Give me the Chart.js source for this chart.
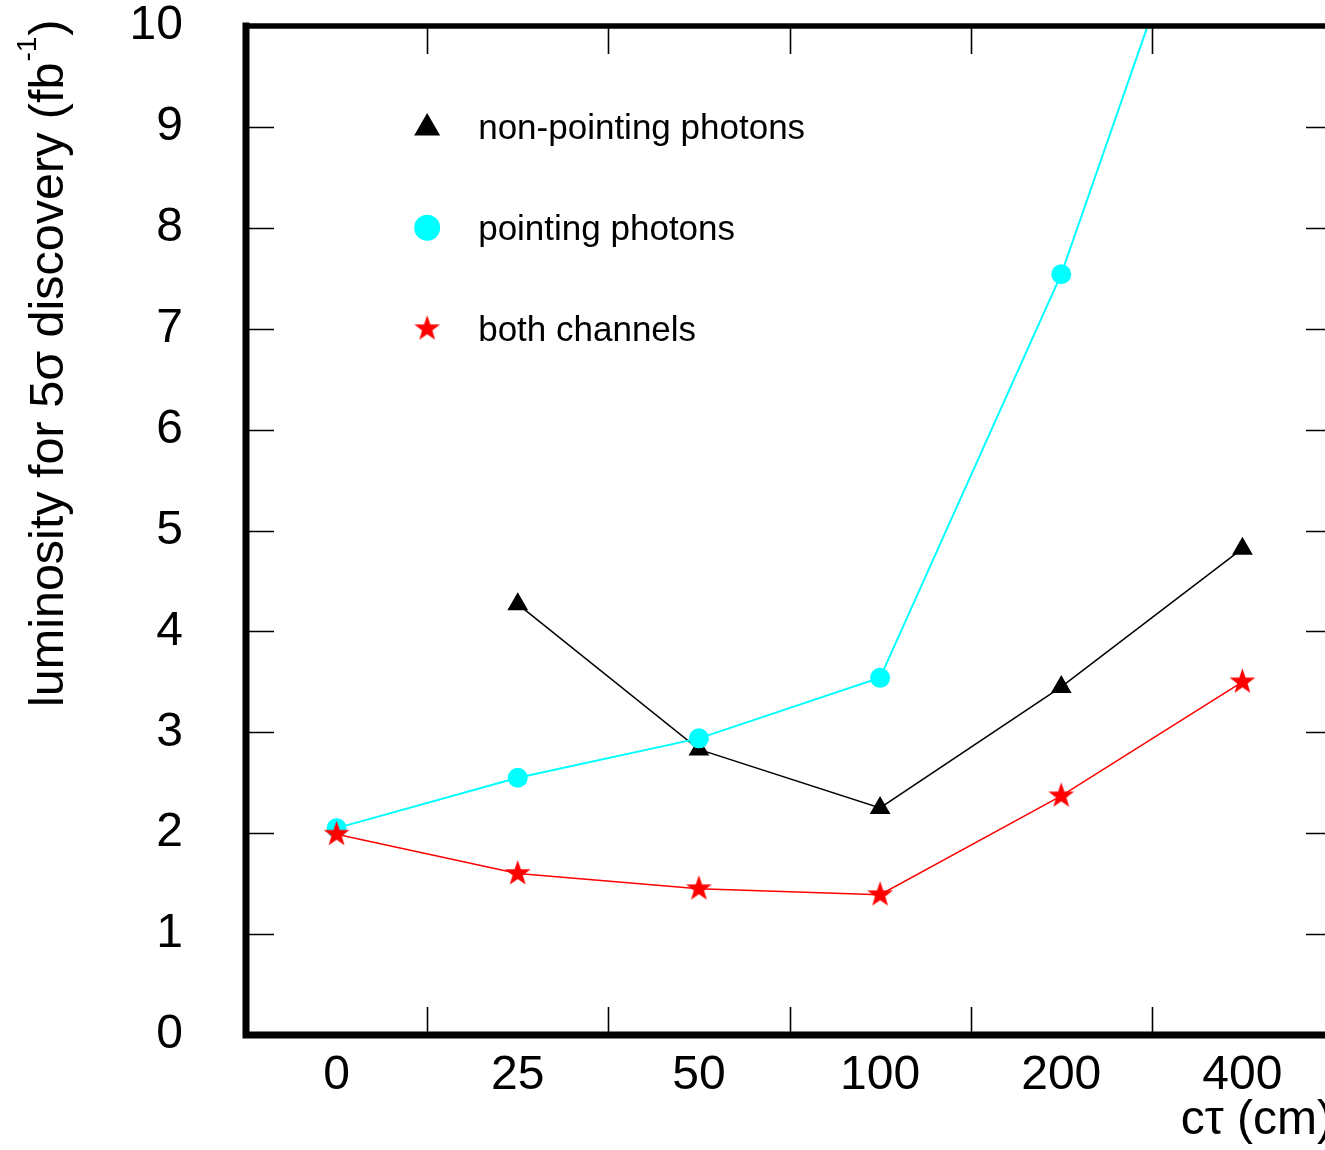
<!DOCTYPE html>
<html lang="en">
<head>
    <meta charset="UTF-8">
    <title>Luminosity for 5 sigma discovery vs c tau</title>
    <script src="https://cdn.jsdelivr.net/npm/chart.js@4.4.0/dist/chart.umd.min.js"></script>
    <style>
        html, body { margin: 0; padding: 0; background: #fff; overflow: hidden; }
        #wrap { width: 1345px; height: 1150px; }
    </style>
</head>
<body>
    <div id="wrap"><canvas id="lumiChart" width="1345" height="1150"></canvas></div>

    <script>
        // c*tau points (cm), drawn at equal spacing
        const ctauLabels = ['0', '25', '50', '100', '200', '400'];
        // luminosity (fb^-1) needed for a 5 sigma discovery
        const nonPointing = [null, 4.27, 2.83, 2.25, 3.45, 4.82];
        const pointing = [2.05, 2.55, 2.94, 3.54, 7.54, 12.7];
        const bothChannels = [1.99, 1.60, 1.45, 1.39, 2.37, 3.50];
        const yTicks = [0, 1, 2, 3, 4, 5, 6, 7, 8, 9, 10];
        const legendNames = ['non-pointing photons', 'pointing photons', 'both channels'];

        const FONT = '"Liberation Sans", Arial, Helvetica, sans-serif';

        function toPoints(values) {
            return values
                .map((v, i) => (v === null ? null : { x: i, y: v }))
                .filter(p => p !== null);
        }

        // five-pointed star, Chart.js only has the cross-style 'star'
        function makeStar(outer, color) {
            const c = document.createElement('canvas');
            const size = Math.ceil(outer * 2 + 2);
            c.width = size;
            c.height = size;
            const g = c.getContext('2d');
            const cx = size / 2, cy = size / 2;
            const inner = outer * 0.4;
            g.beginPath();
            for (let k = 0; k < 10; k++) {
                const r = k % 2 === 0 ? outer : inner;
                const a = -Math.PI / 2 + k * Math.PI / 5;
                const px = cx + r * Math.cos(a), py = cy + r * Math.sin(a);
                if (k === 0) g.moveTo(px, py); else g.lineTo(px, py);
            }
            g.closePath();
            g.fillStyle = color;
            g.fill();
            return c;
        }

        const starImg = makeStar(13.5, '#ff0000');

        function drawTriangle(ctx, x, y, r, color) {
            ctx.beginPath();
            for (let k = 0; k < 3; k++) {
                const a = -Math.PI / 2 + k * 2 * Math.PI / 3;
                const px = x + r * Math.cos(a), py = y + r * Math.sin(a);
                if (k === 0) ctx.moveTo(px, py); else ctx.lineTo(px, py);
            }
            ctx.closePath();
            ctx.fillStyle = color;
            ctx.fill();
        }

        function drawDot(ctx, x, y, r, color) {
            ctx.beginPath();
            ctx.arc(x, y, r, 0, Math.PI * 2);
            ctx.fillStyle = color;
            ctx.fill();
        }

        // frame, inward ticks, legend and rotated y title
        const framePlugin = {
            id: 'frame',
            afterDraw(chart) {
                const ctx = chart.ctx;
                const a = chart.chartArea;
                const xs = chart.scales.x, ys = chart.scales.y;
                const tick = 25;
                ctx.save();
                ctx.strokeStyle = '#000';

                // inward tick marks
                ctx.lineWidth = 1.6;
                ctx.beginPath();
                yTicks.slice(1, -1).forEach(v => {
                    const py = Math.round(ys.getPixelForValue(v)) + 0.5;
                    ctx.moveTo(a.left, py); ctx.lineTo(a.left + 3 + tick, py);
                    ctx.moveTo(a.right, py); ctx.lineTo(a.right - 2 - tick, py);
                });
                for (let i = 0; i < ctauLabels.length - 1; i++) {
                    const px = Math.round(xs.getPixelForValue(i + 0.5)) + 0.5;
                    ctx.moveTo(px, a.bottom); ctx.lineTo(px, a.bottom - 3 - tick);
                    ctx.moveTo(px, a.top); ctx.lineTo(px, a.top + 3 + tick);
                }
                ctx.stroke();

                // frame
                ctx.lineCap = 'square';
                ctx.lineWidth = 7;
                ctx.beginPath();
                ctx.moveTo(a.left, a.top); ctx.lineTo(a.left, a.bottom); ctx.lineTo(a.right, a.bottom);
                ctx.stroke();
                ctx.lineWidth = 5.5;
                ctx.beginPath();
                ctx.moveTo(a.left, a.top); ctx.lineTo(a.right, a.top); ctx.lineTo(a.right, a.bottom);
                ctx.stroke();

                // legend inside the plot
                const lx = xs.getPixelForValue(0.5);
                const rows = [9, 8, 7].map(v => ys.getPixelForValue(v));
                drawTriangle(ctx, lx, rows[0] + 1, 15, '#000');
                drawDot(ctx, lx, rows[1], 13, '#00ffff');
                ctx.drawImage(starImg, lx - starImg.width / 2, rows[2] - starImg.height / 2);
                ctx.fillStyle = '#000';
                ctx.font = '35px ' + FONT;
                ctx.textAlign = 'left';
                ctx.textBaseline = 'alphabetic';
                legendNames.forEach((name, k) => ctx.fillText(name, lx + 51, rows[k] + 12));

                // y axis title with superscript
                ctx.translate(63, 707);
                ctx.rotate(-Math.PI / 2);
                ctx.font = '48.5px ' + FONT;
                const main = 'luminosity for 5\u03c3 discovery (fb';
                ctx.fillText(main, 0, 0);
                let w = ctx.measureText(main).width;
                ctx.font = '28px ' + FONT;
                ctx.fillText('-1', w + 1, -27);
                w += ctx.measureText('-1').width + 2;
                ctx.font = '48.5px ' + FONT;
                ctx.fillText(')', w, 0);
                ctx.restore();
            }
        };

        const ctx = document.getElementById('lumiChart').getContext('2d');
        new Chart(ctx, {
            type: 'line',
            data: {
                datasets: [
                    {
                        label: legendNames[0],
                        data: toPoints(nonPointing),
                        borderColor: '#000000',
                        backgroundColor: '#000000',
                        borderWidth: 1.5,
                        pointStyle: 'triangle',
                        pointRadius: 12,
                        pointBorderWidth: 0,
                        order: 2
                    },
                    {
                        label: legendNames[1],
                        data: toPoints(pointing),
                        borderColor: '#00ffff',
                        backgroundColor: '#00ffff',
                        borderWidth: 2,
                        pointStyle: 'circle',
                        pointRadius: 10,
                        pointBorderWidth: 0,
                        order: 1
                    },
                    {
                        label: legendNames[2],
                        data: toPoints(bothChannels),
                        borderColor: '#ff0000',
                        backgroundColor: '#ff0000',
                        borderWidth: 1.5,
                        pointStyle: starImg,
                        order: 0
                    }
                ]
            },
            options: {
                responsive: false,
                animation: false,
                events: [],
                layout: { padding: { left: 0, top: 26, right: 8, bottom: 0 } },
                plugins: {
                    legend: { display: false },
                    tooltip: { enabled: false }
                },
                scales: {
                    x: {
                        type: 'linear',
                        min: -0.5,
                        max: 5.5,
                        afterBuildTicks: s => { s.ticks = ctauLabels.map((_, i) => ({ value: i })); },
                        afterFit: s => { s.height = 115; s.paddingLeft = 0; s.paddingRight = 0; },
                        grid: { display: false, drawTicks: false },
                        border: { display: false },
                        ticks: {
                            color: '#000',
                            font: { family: FONT, size: 48 },
                            padding: 12,
                            maxRotation: 0,
                            autoSkip: false,
                            callback: v => ctauLabels[v]
                        },
                        title: {
                            display: true,
                            text: 'c\u03c4 (cm)',
                            align: 'end',
                            color: '#000',
                            font: { family: FONT, size: 48 },
                            padding: { top: 0, bottom: 0 }
                        }
                    },
                    y: {
                        min: 0,
                        max: 10,
                        afterBuildTicks: s => { s.ticks = yTicks.map(v => ({ value: v })); },
                        afterFit: s => { s.width = 246; s.paddingTop = 0; s.paddingBottom = 0; },
                        grid: { display: false, drawTicks: false },
                        border: { display: false },
                        ticks: {
                            color: '#000',
                            font: { family: FONT, size: 48 },
                            padding: 63
                        }
                    }
                }
            },
            plugins: [framePlugin]
        });
    </script>
</body>
</html>
